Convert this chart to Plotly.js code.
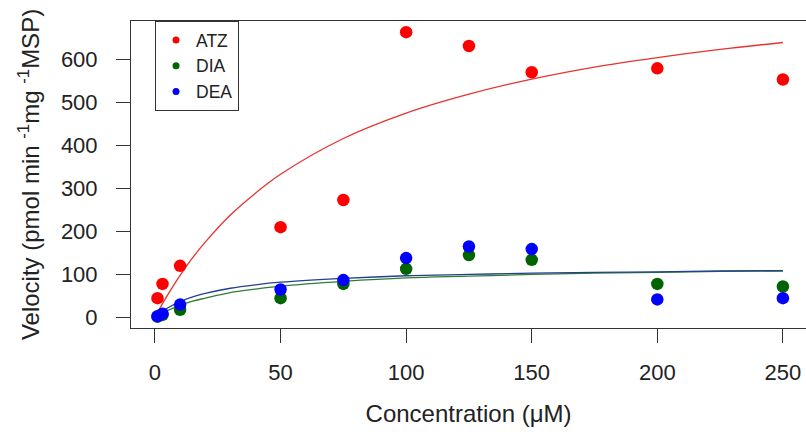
<!DOCTYPE html>
<html>
<head>
<meta charset="utf-8">
<script src="https://cdn.plot.ly/plotly-3.0.1.min.js"></script>
<style>html,body{margin:0;padding:0;background:#fff;}#chart{width:806px;height:441px;}</style>
</head>
<body>
<div id="chart"></div>
<script>
// Measured substrate concentrations (µM)
const concentration = [1, 3, 10, 50, 75, 100, 125, 150, 200, 250];
// Measured velocities (pmol min-1 mg-1 MSP)
const atzVelocity = [45, 78, 120, 210, 273, 663, 631, 570, 579, 553];
const diaVelocity = [2, 6, 18, 45, 78, 113, 145, 134, 78, 72];
const deaVelocity = [3, 9, 30, 65, 87, 138, 165, 159, 42, 45];

// Fitted curves
const curveX   = [0, 2, 5, 10, 15, 20, 30, 40, 50, 75, 100, 125, 150, 175, 200, 225, 250];
const atzCurve = [0, 22, 52, 98, 139, 175, 238, 289, 333, 416, 475, 519, 554, 582, 604, 623, 639];
const diaCurve = [0, 7, 16, 28, 38, 45, 58, 66, 73, 84, 92, 96, 100, 103, 105, 107, 108];
const deaCurve = [0, 10, 22, 37, 48, 56, 68, 76, 82, 91, 97, 100, 103, 105, 106, 108, 109];

const seriesNames = ['ATZ', 'DIA', 'DEA'];
const pointColors = ['#ff0000', '#006400', '#0000ff'];
const lineColors = ['#e8322f', '#2e7d32', '#24408f'];

const pointSets = [atzVelocity, diaVelocity, deaVelocity];
const curveSets = [atzCurve, diaCurve, deaCurve];

const traces = [];
curveSets.forEach((c, i) => {
  traces.push({
    x: curveX, y: c, mode: 'lines', type: 'scatter',
    line: {color: lineColors[i], width: 1.3, shape: 'spline'},
    showlegend: false, hoverinfo: 'skip'
  });
});
pointSets.forEach((p, i) => {
  traces.push({
    x: concentration, y: p, mode: 'markers', type: 'scatter', name: seriesNames[i],
    marker: {color: pointColors[i], size: 12.5}, showlegend: false, legendgroup: seriesNames[i]
  });
});
// legend entries
seriesNames.forEach((n, i) => {
  traces.push({
    x: [null], y: [null], mode: 'markers', type: 'scatter', name: n,
    marker: {color: pointColors[i], size: 7}, showlegend: true, legendgroup: n
  });
});

const fontFam = 'Liberation Sans, Arial, sans-serif';
const layout = {
  width: 806, height: 441,
  margin: {l: 131, r: 0, t: 21, b: 113},
  paper_bgcolor: '#fff', plot_bgcolor: '#fff',
  font: {family: fontFam, size: 22, color: '#222'},
  showlegend: true,
  legend: {
    x: 0.0356, y: 1, xanchor: 'left', yanchor: 'top',
    bordercolor: '#333', borderwidth: 1, bgcolor: '#fff',
    font: {family: fontFam, size: 17.5, color: '#222'},
    itemwidth: 30, tracegroupgap: 0
  },
  xaxis: {
    range: [-9.55, 259.2], tickvals: [0, 50, 100, 150, 200, 250],
    ticks: 'outside', ticklen: 14, tickcolor: '#333', tickwidth: 1,
    showline: true, linecolor: '#333', linewidth: 1, mirror: true,
    showgrid: false, zeroline: false, ticklabelstandoff: 11,
    tickfont: {size: 22},
    title: {text: 'Concentration (μM)', standoff: 20, font: {size: 24}}
  },
  yaxis: {
    range: [-24.4, 689], tickvals: [0, 100, 200, 300, 400, 500, 600],
    ticks: 'outside', ticklen: 14, tickcolor: '#333', tickwidth: 1,
    showline: true, linecolor: '#333', linewidth: 1, mirror: false,
    showgrid: false, zeroline: false, ticklabelstandoff: 14,
    tickfont: {size: 22},
    title: {text: 'Velocity (pmol min <sup>-1</sup>mg <sup>-1</sup>MSP)', standoff: 14, font: {size: 24}}
  }
};

Plotly.newPlot('chart', traces, layout, {displayModeBar: false, staticPlot: true});
</script>
</body>
</html>
